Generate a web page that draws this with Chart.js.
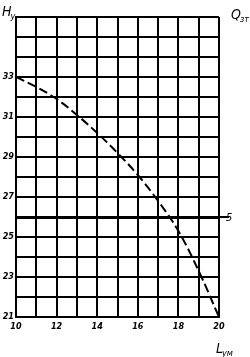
<!DOCTYPE html>
<html>
<head>
<meta charset="utf-8">
<script src="https://cdn.jsdelivr.net/npm/chart.js@4/dist/chart.umd.min.js"></script>
<style>
  html, body { margin: 0; padding: 0; background: #fff; }
  #wrap { width: 250px; height: 357px; }
</style>
</head>
<body>
<div id="wrap"><canvas id="chart"></canvas></div>
<script>
// data
const lengths = [10, 11, 12, 13, 14, 15, 16, 17, 18, 19, 20];
const heads = [33, 32.5, 31.9, 31.1, 30.2, 29.2, 28.1, 26.8, 25.3, 23.3, 21];
const xTickLabels = [10, 12, 14, 16, 18, 20];
const yTickLabels = [21, 23, 25, 27, 29, 31, 33];
const levelValue = 26;
const levelLabel = '5';

const tickFont = { family: 'DejaVu Sans Condensed', size: 9, style: 'italic', weight: 'bold' };

// axis names, the bold level line stub and its label
const extras = {
  id: 'extras',
  afterDraw(chart) {
    const c = chart.ctx;
    const area = chart.chartArea;
    const yLevel = chart.scales.y.getPixelForValue(levelValue);
    c.save();
    c.strokeStyle = '#000';
    c.lineWidth = 2;
    c.beginPath();
    c.moveTo(area.right, yLevel);
    c.lineTo(area.right + 10, yLevel);
    c.stroke();

    c.fillStyle = '#000';
    c.textBaseline = 'alphabetic';
    c.font = 'italic 11px "DejaVu Sans Condensed"';
    c.fillText(levelLabel, area.right + 7, yLevel + 4);

    function label(main, sub, x, y) {
      c.font = 'italic 14px "DejaVu Sans Condensed"';
      c.fillText(main, x, y);
      const w = c.measureText(main).width;
      c.font = 'italic 9px "DejaVu Sans Condensed"';
      c.fillText(sub, x + w - 1, y + 3);
    }
    label('H', 'у', 2, 16);
    label('Q', 'зт', 231, 19);
    label('L', 'ум', area.right - 3, 353);
    c.restore();
  }
};

new Chart(document.getElementById('chart'), {
  type: 'line',
  data: {
    datasets: [{
      data: lengths.map((l, i) => ({ x: l, y: heads[i] })),
      borderColor: '#000',
      borderWidth: 2,
      borderDash: [9, 4],
      pointRadius: 0,
      tension: 0.4,
      fill: false
    }]
  },
  options: {
    responsive: true,
    maintainAspectRatio: false,
    animation: false,
    layout: { padding: { top: 17, right: 31, left: 0, bottom: 0 } },
    plugins: { legend: { display: false }, tooltip: { enabled: false } },
    scales: {
      x: {
        type: 'linear',
        min: 10,
        max: 20,
        afterFit(scale) { scale.height = 40; },
        border: { color: '#000', width: 2 },
        grid: { color: '#000', lineWidth: 2, drawTicks: false },
        ticks: {
          stepSize: 1,
          autoSkip: false,
          maxRotation: 0,
          padding: 4,
          color: '#000',
          font: tickFont,
          callback: v => xTickLabels.includes(v) ? String(v) : ''
        }
      },
      y: {
        min: 21,
        max: 36,
        afterFit(scale) { scale.width = 16; },
        border: { color: '#000', width: 2 },
        grid: {
          color: '#000',
          lineWidth: ctx => (ctx.tick && ctx.tick.value === levelValue) ? 3 : 2,
          drawTicks: false
        },
        ticks: {
          stepSize: 1,
          autoSkip: false,
          padding: 2,
          color: '#000',
          font: tickFont,
          callback: v => yTickLabels.includes(v) ? String(v) : ''
        }
      }
    }
  },
  plugins: [extras]
});
</script>
</body>
</html>
